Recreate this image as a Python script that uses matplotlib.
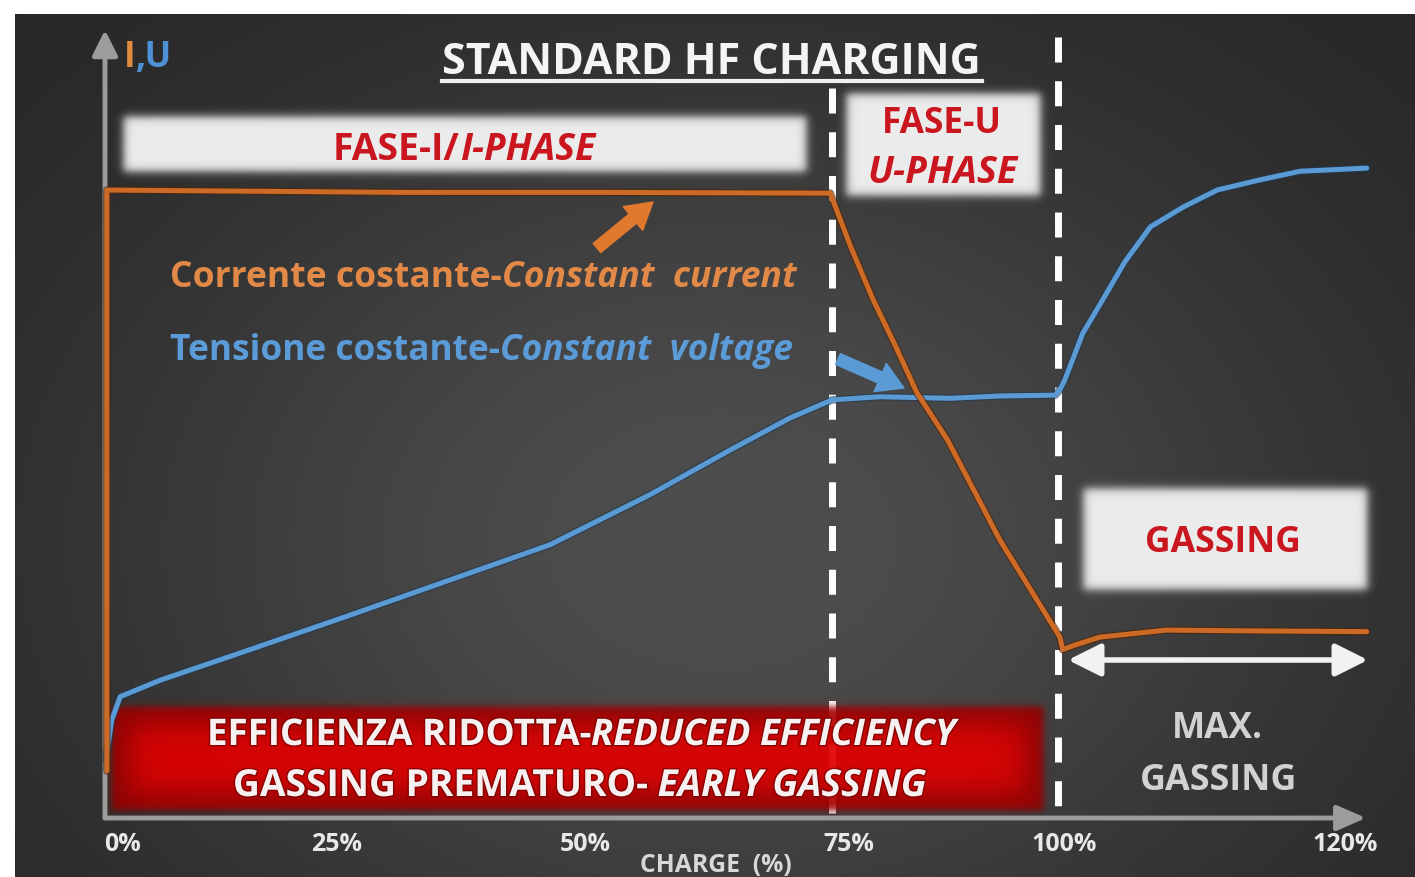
import numpy as np
import matplotlib
matplotlib.use('Agg')
import matplotlib.pyplot as plt
import matplotlib.transforms as mtransforms
import matplotlib.patheffects as pe
from matplotlib.lines import Line2D

# ---------------- data (horizontal position units: 100 = 100 % charge line) -------------
current_pos = [0.2, 0.2, 10.0, 31.0, 51.9, 76.1, 78.3, 80.6, 82.9, 85.2, 88.4, 92.1,
               93.9, 96.7, 100.2, 100.5, 101.8, 104.4, 111.4, 120.1, 132.4]
current_val = [6.0, 80.2, 80.1, 79.9, 79.9, 79.8, 72.8, 66.2, 60.4, 54.3, 48.3, 39.7,
               35.5, 30.0, 23.1, 21.5, 22.1, 23.1, 24.0, 23.9, 23.8]

voltage_pos = [0.1, 0.7, 1.6, 5.8, 15.2, 25.7, 36.2, 46.7, 57.2, 65.6, 71.9, 76.3,
               81.3, 88.7, 93.9, 99.7, 100.2, 100.7, 102.6, 104.7, 107.0, 109.7,
               113.1, 116.7, 121.2, 125.4, 132.4]
voltage_val = [7.4, 12.5, 15.5, 17.6, 21.5, 25.9, 30.4, 34.9, 41.3, 47.0, 51.1, 53.4,
               53.8, 53.6, 53.9, 54.0, 54.7, 55.9, 61.9, 66.2, 71.0, 75.5,
               78.0, 80.2, 81.5, 82.6, 83.0]

phase_pos = [76.3, 100.0]
phase_top = [93.2, 99.7]
tick_pos = [1.8, 24.3, 50.4, 78.1, 100.6, 130.1]
tick_labels = ['0%', '25%', '50%', '75%', '100%', '120%']

FONT = 'Open Sans'
W, H = 1415, 877
fig = plt.figure(figsize=(W / 100, H / 100), dpi=100, facecolor='white')
PX = mtransforms.Affine2D().scale(1, -1).translate(0, H)

X0, XS = 105, 9.53
Y0, YS = 818, 7.83
def ux(px): return (px - X0) / XS
def vy(py): return (Y0 - py) / YS

# ---------------- background ----------------
bg = fig.add_axes([0, 0, 1, 1], zorder=0)
bg.axis('off')
gy, gx = np.mgrid[14:H:3, 15:W:3].astype(float)
r2 = ((gx - 720) / 650.0) ** 2 + ((gy - 540) / 480.0) ** 2
val = (36 + (78 - 36) * np.exp(-r2)) / 255.0
img = np.dstack([val, val, val])
bg.imshow(img, extent=(15, W, H, 14), aspect='auto', interpolation='bilinear')
bg.set_xlim(0, W); bg.set_ylim(H, 0)

ax = fig.add_axes([X0 / W, (H - 818) / H, (1365 - X0) / W, (818 - 35) / H], zorder=1)
ax.patch.set_alpha(0)
for s in ax.spines.values():
    s.set_visible(False)

def soft(t, b):
    return 0.5 * (1 + np.tanh(t / b))

def soft_box(x0, x1, y0, y1, color, blur, z, alpha=1.0, shade=None):
    pad = 3 * blur
    xs = np.arange(x0 - pad, x1 + pad, 1.0)
    ys = np.arange(y0 - pad, y1 + pad, 1.0)
    axx = soft(xs - x0, blur) * soft(x1 - xs, blur)
    ayy = soft(ys - y0, blur) * soft(y1 - ys, blur)
    A = np.outer(ayy, axx)
    im = np.zeros((len(ys), len(xs), 4))
    im[..., :3] = color
    if shade is not None:
        sb = shade
        ix = soft(xs - x0 - sb, sb) * soft(x1 - xs - sb, sb)
        iy = soft(ys - y0 - sb, sb) * soft(y1 - ys - sb, sb)
        inner = np.outer(iy, ix)
        im[..., 0] = 0.58 + 0.32 * inner
        im[..., 1] = 0.0
        im[..., 2] = 0.0
    im[..., 3] = A * alpha
    ax.imshow(im, extent=(ux(x0 - pad), ux(x1 + pad), vy(y1 + pad), vy(y0 - pad)),
              aspect='auto', interpolation='bilinear', zorder=z, clip_on=False)

# white / red boxes
soft_box(123, 806, 116, 171, (0.93, 0.93, 0.93), 5, 2)
soft_box(846, 1040, 93, 195, (0.93, 0.93, 0.93), 5, 2)
soft_box(1083, 1366, 488, 589, (0.93, 0.93, 0.93), 5, 2)

# phase dashed lines (pattern starts at the top)
for xp, yt in zip(phase_pos, phase_top):
    ax.plot([xp, xp], [yt, 0], color='white', lw=5, zorder=3, clip_on=False,
            linestyle=(0, (3.6, 2.7)), solid_capstyle='butt', dash_capstyle='butt')

soft_box(111, 1043, 706, 810, (0.8, 0, 0), 4, 4, alpha=0.93, shade=18)

# axes arrows
ax.annotate('', xy=(0, vy(30)), xytext=(0, 0), zorder=4.5, annotation_clip=False,
            arrowprops=dict(arrowstyle='-|>,head_length=0.7,head_width=0.35',
                            lw=3.5, color='#9c9c9c', mutation_scale=22, shrinkA=0, shrinkB=0))
ax.annotate('', xy=(ux(1366), 0), xytext=(0, 0), zorder=4.5, annotation_clip=False,
            arrowprops=dict(arrowstyle='-|>,head_length=0.8,head_width=0.35',
                            lw=3.5, color='#9c9c9c', mutation_scale=22, shrinkA=0, shrinkB=0))

# curves
ax.plot(voltage_pos, voltage_val, color='#5b9bd5', lw=3.6, zorder=5, clip_on=False,
        solid_capstyle='round',
        path_effects=[pe.Stroke(linewidth=5.5, foreground='#23384f', alpha=0.6), pe.Normal()])
ax.plot(current_pos, current_val, color='#cd6a25', lw=3.6, zorder=5, clip_on=False,
        solid_capstyle='round',
        path_effects=[pe.Stroke(linewidth=5.5, foreground='#4e2508', alpha=0.6), pe.Normal()])

# pointer arrows
ax.annotate('', xy=(ux(653), vy(202)), xytext=(ux(597), vy(248)), zorder=6,
            arrowprops=dict(arrowstyle='simple,head_length=1.1,head_width=1.3,tail_width=0.5',
                            color='#e0782e', mutation_scale=17, shrinkA=0, shrinkB=0))
ax.annotate('', xy=(ux(904), vy(388)), xytext=(ux(838), vy(359)), zorder=6,
            arrowprops=dict(arrowstyle='simple,head_length=1.1,head_width=1.3,tail_width=0.5',
                            color='#5b9bd5', mutation_scale=17, shrinkA=0, shrinkB=0))
# max gassing double arrow
ax.annotate('', xy=(ux(1368), vy(660)), xytext=(ux(1068), vy(660)), zorder=6,
            annotation_clip=False,
            arrowprops=dict(arrowstyle='<|-|>,head_length=0.9,head_width=0.45',
                            lw=4, color='#f2f2f2', mutation_scale=22, shrinkA=0, shrinkB=0))

ax.set_xlim(0, ux(1365))
ax.set_ylim(0, vy(35))
ax.set_yticks([])
ax.set_xticks(tick_pos)
ax.set_xticklabels(tick_labels, fontsize=18, color='#e8e8e8', fontweight='bold', family=FONT)
ax.tick_params(axis='x', length=0, pad=10)

# ---------------- text helpers ----------------
R = fig.canvas.get_renderer()

def text_line(pieces, x, base, size, ha='left', width=None, weight='bold', z=7, effects=None):
    def build(sz):
        ts = []
        for s, it, c in pieces:
            t = ax.text(0, 0, s, transform=PX, fontsize=sz, family=FONT,
                        fontstyle='italic' if it else 'normal', fontweight=weight,
                        color=c, va='baseline', ha='left', zorder=z, clip_on=False,
                        path_effects=effects)
            ts.append(t)
        ws = [t.get_window_extent(R).width for t in ts]
        return ts, ws
    ts, ws = build(size)
    if width:
        sc = width / sum(ws)
        for t in ts:
            t.remove()
        ts, ws = build(size * sc)
    total = sum(ws)
    cur = x if ha == 'left' else (x - total / 2 if ha == 'center' else x - total)
    for t, w in zip(ts, ws):
        t.set_position((cur, base))
        cur += w
    return ts

RED = '#c9161f'
text_line([('STANDARD HF CHARGING', False, '#f4f4f4')], 442, 74, 30, width=538)
ax.add_line(Line2D([442, 982], [81, 81], transform=PX, color='#f0f0f0', lw=3,
                   zorder=7, clip_on=False))
text_line([('I', False, '#e0893f'), (',U', False, '#4f91d6')], 124, 67, 22, width=48)
text_line([('FASE-I/', False, RED), ('I-PHASE', True, RED)], 333, 160, 22, width=262)
text_line([('FASE-U', False, RED)], 882, 133, 22, width=120)
text_line([('U-PHASE', True, RED)], 867, 183, 22, width=150)
text_line([('GASSING', False, RED)], 1145, 552, 22, width=155)
text_line([('MAX.', False, '#d2d2d2')], 1172, 738, 22, width=91)
text_line([('GASSING', False, '#d2d2d2')], 1140, 790, 22, width=157)
text_line([('Corrente costante-', False, '#e28948'), ('Constant  current', True, '#e28948')],
          170, 287, 22, width=624)
text_line([('Tensione costante-', False, '#5b9bd8'), ('Constant  voltage', True, '#5b9bd8')],
          170, 360, 22, width=622)
eff = [pe.withStroke(linewidth=2.2, foreground='#6a0000', alpha=0.6)]
text_line([('EFFICIENZA RIDOTTA-', False, '#f6f0f0'), ('REDUCED EFFICIENCY', True, '#f6f0f0')],
          207, 745, 22, width=748, effects=eff)
text_line([('GASSING PREMATURO-', False, '#f6f0f0'), (' EARLY GASSING', True, '#f6f0f0')],
          233, 796, 22, width=692, effects=eff)
text_line([('CHARGE  (%)', False, '#d8d8d8')], 640, 872, 14, width=152)

fig.savefig('out.png', dpi=100, facecolor='white')
